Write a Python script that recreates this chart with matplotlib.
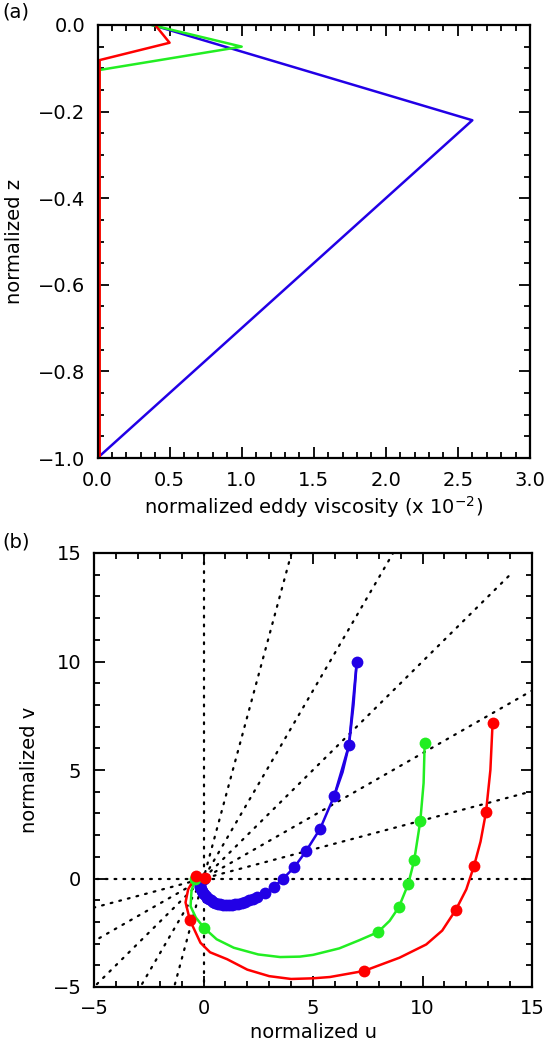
import numpy as np
import matplotlib
matplotlib.use("Agg")
import matplotlib.pyplot as plt
from matplotlib.ticker import MultipleLocator, FuncFormatter

# ---- panel (a): eddy viscosity profiles (x 1e-2) vs normalized depth
visc_red = [0.40, 0.50, 0.015, 0.015]
z_red = [0.0, -0.041, -0.081, -1.0]
visc_green = [0.375, 1.0, 0.012, 0.012]
z_green = [0.0, -0.05, -0.104, -1.0]
visc_blue = [0.38, 2.6, 0.0]
z_blue = [0.0, -0.22, -1.0]

# ---- panel (b): hodographs (normalized u, v)
# lines
u_red_line = [0.09, -0.36, -0.7, -0.82, -0.62, -0.14, 0.3, 1.08, 2.0, 3.0, 4.0, 5.0,
              5.77, 7.33, 8.95, 10.17, 10.9, 11.53, 12.0, 12.35, 12.65, 12.9, 13.1, 13.2]
v_red_line = [0.03, 0.1, -0.5, -1.1, -1.92, -2.96, -3.4, -3.72, -4.2, -4.5, -4.63, -4.6,
              -4.54, -4.26, -3.65, -3.04, -2.4, -1.43, -0.5, 0.57, 1.7, 3.06, 5.0, 7.16]
u_green_line = [-0.4, -0.55, -0.59, -0.35, 0.02, 0.6, 1.38, 2.5, 3.5, 4.4, 5.0, 6.2,
                7.1, 7.97, 8.5, 8.92, 9.35, 9.62, 9.9, 10.05, 10.1]
v_green_line = [0.0, -0.6, -1.28, -1.8, -2.27, -2.8, -3.19, -3.5, -3.62, -3.6, -3.52, -3.22,
                -2.85, -2.47, -1.95, -1.32, -0.25, 0.83, 2.65, 4.4, 6.25]
# blue: every model level is marked, dense near the origin
u_blue = [0.0, -0.06, -0.11, -0.15, -0.17, -0.17, -0.15, -0.12, -0.08, -0.03, 0.03, 0.1,
          0.17, 0.25, 0.34, 0.44, 0.54, 0.65, 0.77, 0.89, 1.02, 1.15, 1.29, 1.43, 1.58,
          1.74, 1.9, 2.07, 2.25, 2.44, 2.82, 3.2, 3.64, 4.14, 4.68, 5.33, 5.97, 6.64, 7.0]
v_blue = [0.0, -0.05, -0.11, -0.18, -0.25, -0.33, -0.41, -0.49, -0.57, -0.65, -0.73, -0.81,
          -0.88, -0.95, -1.01, -1.07, -1.12, -1.16, -1.19, -1.21, -1.22, -1.22, -1.21, -1.19,
          -1.16, -1.12, -1.07, -1.01, -0.94, -0.86, -0.66, -0.4, 0.0, 0.51, 1.26, 2.3, 3.81,
          6.13, 10.0]
u_blue_top = [5.97, 6.35, 6.64, 6.85, 7.0]
v_blue_top = [3.81, 4.9, 6.13, 8.0, 10.0]
# markers
u_red_pts = [0.09, -0.36, -0.62, 7.33, 11.53, 12.35, 12.9, 13.2]
v_red_pts = [0.03, 0.1, -1.92, -4.26, -1.43, 0.57, 3.06, 7.16]
u_green_pts = [-0.4, 0.02, 7.97, 8.92, 9.35, 9.62, 9.9, 10.1]
v_green_pts = [0.0, -2.27, -2.47, -1.32, -0.25, 0.83, 2.65, 6.25]

# dotted guide rays through the origin
ray_angles = [0, 15, 30, 45, 60, 75, 90]
ray_radius = 20

RED = "#ff0000"
GREEN = "#22ee22"
BLUE = "#2200e6"

plt.rcParams['font.family'] = ['DejaVu Sans']

fig = plt.figure(figsize=(5.52, 10.52), dpi=100)
ax1 = fig.add_axes([97.5 / 552, 1 - 458 / 1052, (530 - 97.5) / 552, (458 - 25) / 1052])
ax2 = fig.add_axes([94 / 552, 1 - 987 / 1052, (532 - 94) / 552, (987 - 553) / 1052])


def minus_fmt(fmt):
    return FuncFormatter(lambda x, pos: (fmt % x).replace('-', '\u2212'))


def idl_axes(ax):
    ax.tick_params(which='both', direction='in', top=True, right=True, width=1.3,
                   labelsize=14, pad=9)
    ax.tick_params(which='major', length=8)
    ax.tick_params(which='minor', length=4)
    for s in ax.spines.values():
        s.set_linewidth(1.6)


# panel (a)
ax1.plot(visc_blue, z_blue, color=BLUE, lw=1.8)
ax1.plot(visc_green, z_green, color=GREEN, lw=1.8)
ax1.plot(visc_red, z_red, color=RED, lw=1.8)
ax1.set_xlim(0, 3.0)
ax1.set_ylim(-1.0, 0.0)
ax1.xaxis.set_major_locator(MultipleLocator(0.5))
ax1.xaxis.set_minor_locator(MultipleLocator(0.1))
ax1.yaxis.set_major_locator(MultipleLocator(0.2))
ax1.yaxis.set_minor_locator(MultipleLocator(0.05))
ax1.xaxis.set_major_formatter(minus_fmt('%.1f'))
ax1.yaxis.set_major_formatter(minus_fmt('%.1f'))
idl_axes(ax1)
ax1.set_xlabel('normalized eddy viscosity (x 10$^{-2}$)', fontsize=14, labelpad=3)
ax1.set_ylabel('normalized z', fontsize=14, labelpad=10)

# panel (b)
for a in ray_angles:
    t = np.deg2rad(a)
    ax2.plot([-ray_radius * np.cos(t), ray_radius * np.cos(t)],
             [-ray_radius * np.sin(t), ray_radius * np.sin(t)],
             color='black', lw=1.6, linestyle=(0, (0.8, 3.2)), dash_capstyle='round')

ax2.plot(u_green_line, v_green_line, color=GREEN, lw=1.8)
ax2.plot(u_red_line, v_red_line, color=RED, lw=1.8)
ax2.plot(u_blue, v_blue, color=BLUE, lw=1.8)
ax2.plot(u_blue_top, v_blue_top, color=BLUE, lw=1.8)
ax2.plot(u_blue, v_blue, 'o', color=BLUE, ms=8.5, mec='none')
ax2.plot(u_green_pts, v_green_pts, 'o', color=GREEN, ms=8.5, mec='none')
ax2.plot(u_red_pts, v_red_pts, 'o', color=RED, ms=8.5, mec='none')

ax2.set_xlim(-5, 15)
ax2.set_ylim(-5, 15)
ax2.xaxis.set_major_locator(MultipleLocator(5))
ax2.xaxis.set_minor_locator(MultipleLocator(1))
ax2.yaxis.set_major_locator(MultipleLocator(5))
ax2.yaxis.set_minor_locator(MultipleLocator(1))
ax2.xaxis.set_major_formatter(minus_fmt('%d'))
ax2.yaxis.set_major_formatter(minus_fmt('%d'))
idl_axes(ax2)
ax2.set_xlabel('normalized u', fontsize=14, labelpad=3)
ax2.set_ylabel('normalized v', fontsize=14, labelpad=10)

fig.text(0.004, 1 - 3 / 1052, '(a)', fontsize=14, va='top', ha='left')
fig.text(0.004, 1 - 533 / 1052, '(b)', fontsize=14, va='top', ha='left')

fig.savefig('out.png', dpi=100)
